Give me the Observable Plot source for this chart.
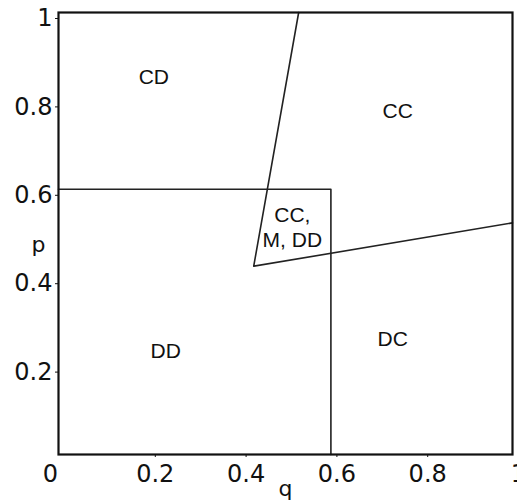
<!DOCTYPE html>
<html>
<head>
<meta charset="utf-8">
<script src="https://cdn.jsdelivr.net/npm/d3@7"></script>
<script src="https://cdn.jsdelivr.net/npm/@observablehq/plot@0.6"></script>
<style>
  html, body { margin: 0; padding: 0; background: #fff; }
</style>
</head>
<body>
<div id="chart"></div>
<script>
// Axis ticks
const qTicks = [0.2, 0.4, 0.6, 0.8, 1];
const qOrigin = [0];
const pTicks = [0.2, 0.4, 0.6, 0.8, 1];

// Boundary of the lower-left region (p < 0.6, q < 0.6)
const squareQ = [0, 0.6, 0.6];
const squareP = [0.6, 0.6, 0];

// Wedge boundary: top edge -> vertex -> right edge
const wedgeQ = [0.529, 0.43, 1];
const wedgeP = [1, 0.426, 0.524];

// Region labels
const regionNames = ["CD", "CC", "CC,\nM, DD", "DD", "DC"];
const regionQ = [0.21, 0.747, 0.515, 0.236, 0.736];
const regionP = [0.856, 0.779, 0.516, 0.237, 0.264];

const toPoints = (qs, ps) => qs.map((q, i) => ({q, p: ps[i]}));
const square = toPoints(squareQ, squareP);
const wedge = toPoints(wedgeQ, wedgeP);
const regions = regionNames.map((name, i) => ({name, q: regionQ[i], p: regionP[i]}));

const fmt = d => d === 0 ? "0" : d === 1 ? "1" : d3.format(".1f")(d);
const tickFont = {fontSize: 24, fontFamily: "DejaVu Sans"};

const chart = Plot.plot({
  width: 517,
  height: 504,
  marginLeft: 58,
  marginRight: 5,
  marginTop: 12,
  marginBottom: 50,
  style: {background: "#fff", color: "#111"},
  x: {domain: [0, 1]},
  y: {domain: [0, 1]},
  marks: [
    Plot.line(square, {x: "q", y: "p", stroke: "#222", strokeWidth: 1.6}),
    Plot.line(wedge, {x: "q", y: "p", stroke: "#222", strokeWidth: 1.6}),
    Plot.frame({stroke: "#111", strokeWidth: 2.2}),
    Plot.axisX(qTicks, {
      tickSize: 3, tickPadding: 7, tickFormat: fmt, dx: 6,
      ...tickFont, label: null
    }),
    Plot.axisX(qOrigin, {
      tickSize: 0, tickPadding: 10, tickFormat: fmt, dx: -8,
      ...tickFont, label: null
    }),
    Plot.axisY(pTicks, {
      tickSize: 3, tickPadding: 3, tickFormat: fmt, dy: 6,
      ...tickFont, label: null
    }),
    Plot.text(["q"], {
      frameAnchor: "bottom", dy: 41,
      ...tickFont, fontSize: 22, fill: "#111"
    }),
    Plot.text(["p"], {
      frameAnchor: "left", dx: -27, dy: 11,
      ...tickFont, fontSize: 22, fill: "#111"
    }),
    Plot.text(regions, {
      x: "q", y: "p", text: "name",
      fontSize: 21, fontFamily: "Liberation Sans", fill: "#111",
      lineHeight: 1.2
    })
  ]
});

document.getElementById("chart").appendChild(chart);
</script>
</body>
</html>
